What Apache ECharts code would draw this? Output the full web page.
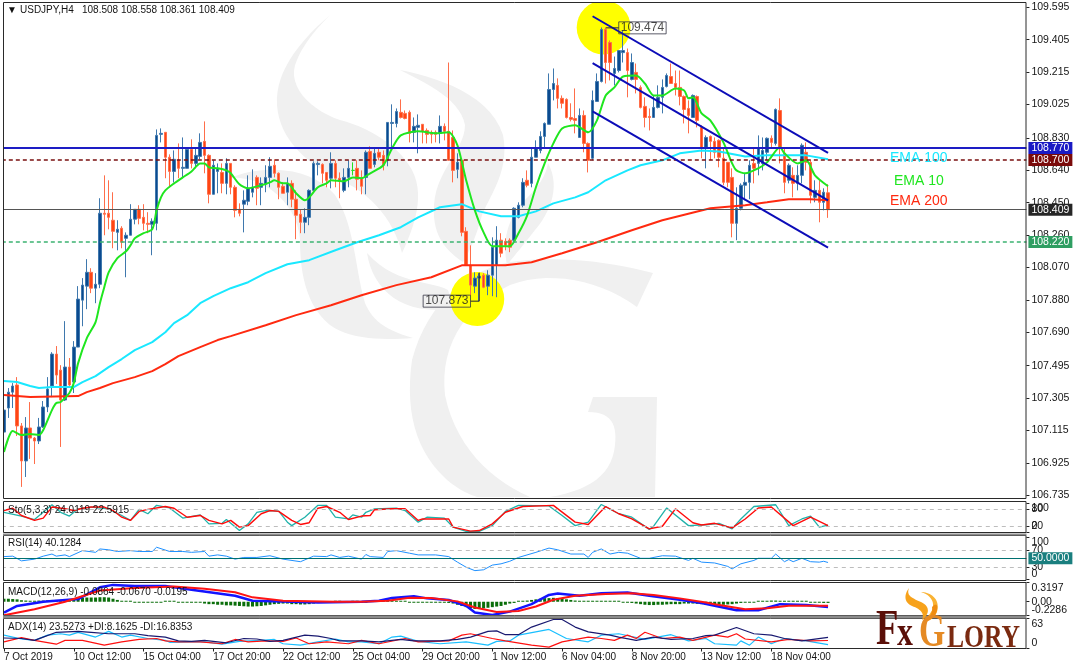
<!DOCTYPE html>
<html><head><meta charset="utf-8">
<style>html,body{margin:0;padding:0;background:#fff}#c{width:1076px;height:669px}</style>
<script src="https://cdn.jsdelivr.net/npm/echarts@6/dist/echarts.min.js"></script>
</head><body><div id="c"></div>
<script>
const candles=[
[107.106,107.235,107.066,107.452],[107.247,107.340,107.189,107.364],[107.340,107.376,107.247,107.393],[107.382,107.142,107.083,107.428],[107.142,106.937,106.785,107.159],
[106.937,107.130,106.843,107.194],[107.130,107.071,106.949,107.282],[107.071,107.054,106.919,107.077],[107.054,107.136,107.036,107.189],[107.136,107.253,107.130,107.288],
[107.253,107.358,107.223,107.428],[107.376,107.563,107.311,107.574],[107.563,107.440,107.388,107.610],[107.469,107.294,107.019,107.498],[107.294,107.487,107.288,107.756],
[107.487,107.382,107.370,107.540],[107.399,107.604,107.335,107.639],[107.604,107.885,107.604,107.961],[107.879,107.967,107.726,108.008],[107.961,108.042,107.826,108.119],
[108.042,107.949,107.920,108.066],[107.949,107.972,107.861,108.037],[107.972,108.388,107.949,108.476],[108.388,108.382,108.259,108.610],[108.388,108.364,108.294,108.581],
[108.347,108.282,108.183,108.511],[108.276,108.294,108.171,108.347],[108.300,108.218,108.183,108.312],[108.241,108.259,108.013,108.276],[108.259,108.353,108.259,108.441],
[108.353,108.411,108.323,108.411],[108.411,108.358,108.323,108.435],[108.364,108.329,108.288,108.441],[108.329,108.323,108.271,108.394],[108.323,108.341,108.142,108.358],
[108.329,108.844,108.288,108.879],[108.850,108.856,108.803,108.885],[108.862,108.716,108.593,108.862],[108.716,108.633,108.540,108.733],[108.633,108.704,108.569,108.756],
[108.698,108.651,108.593,108.797],[108.651,108.657,108.593,108.832],[108.651,108.762,108.651,108.768],[108.762,108.680,108.651,108.821],[108.680,108.727,108.651,108.768],
[108.721,108.803,108.704,108.856],[108.809,108.727,108.622,108.926],[108.727,108.499,108.446,108.733],[108.499,108.669,108.499,108.698],[108.633,108.651,108.505,108.680],
[108.627,108.563,108.505,108.680],[108.563,108.680,108.499,108.710],[108.680,108.540,108.499,108.680],[108.540,108.405,108.364,108.552],[108.411,108.388,108.370,108.446],
[108.441,108.464,108.276,108.522],[108.458,108.534,108.435,108.610],[108.511,108.540,108.481,108.645],[108.598,108.534,108.435,108.610],[108.540,108.563,108.435,108.598],
[108.558,108.598,108.511,108.669],[108.598,108.663,108.540,108.716],[108.669,108.622,108.598,108.704],[108.622,108.540,108.470,108.627],[108.546,108.505,108.505,108.569],
[108.511,108.563,108.435,108.598],[108.563,108.470,108.423,108.581],[108.470,108.376,108.236,108.522],[108.382,108.335,108.271,108.411],[108.335,108.364,108.271,108.417],
[108.364,108.522,108.318,108.528],[108.522,108.680,108.517,108.692],[108.674,108.680,108.610,108.692],[108.674,108.622,108.563,108.680],[108.627,108.581,108.540,108.627],
[108.593,108.680,108.534,108.745],[108.680,108.593,108.540,108.698],[108.593,108.575,108.476,108.627],[108.522,108.598,108.511,108.651],[108.598,108.651,108.540,108.698],
[108.639,108.639,108.610,108.686],[108.651,108.587,108.522,108.698],[108.593,108.546,108.499,108.639],[108.598,108.745,108.499,108.756],[108.750,108.651,108.651,108.780],
[108.674,108.739,108.657,108.774],[108.745,108.716,108.698,108.774],[108.727,108.669,108.639,108.756],[108.698,108.920,108.663,108.920],[108.914,108.920,108.774,109.026],
[108.914,108.984,108.891,109.002],[108.979,108.949,108.943,109.055],[108.973,108.943,108.938,108.990],[108.979,108.856,108.803,108.990],[108.862,108.897,108.803,108.949],
[108.891,108.903,108.739,108.967],[108.909,108.868,108.797,108.909],[108.873,108.850,108.797,108.885],[108.856,108.850,108.797,108.873],[108.862,108.850,108.803,108.873],
[108.856,108.897,108.797,108.961],[108.897,108.868,108.815,108.914],[108.868,108.698,108.698,109.271],[108.832,108.639,108.569,108.873],[108.645,108.686,108.593,108.739],
[108.698,108.276,108.253,108.698],[108.282,108.083,108.083,108.306],[108.083,107.967,107.908,108.200],[107.961,108.008,107.920,108.042],[108.008,108.019,107.873,108.037],
[108.025,107.955,107.949,108.037],[107.961,108.025,107.908,108.054],[108.025,108.189,107.902,108.247],[108.083,108.230,107.896,108.312],[108.230,108.154,108.130,108.271],
[108.224,108.200,108.171,108.241],[108.230,108.189,108.160,108.241],[108.230,108.417,108.212,108.423],[108.364,108.435,108.358,108.452],[108.435,108.569,108.423,108.593],
[108.581,108.552,108.540,108.639],[108.563,108.716,108.540,108.774],[108.716,108.768,108.716,108.815],[108.756,108.838,108.739,108.868],[108.838,108.914,108.774,108.920],
[108.909,109.113,108.909,109.207],[109.113,109.148,109.049,109.236],[109.137,109.061,109.002,109.178],[109.061,109.032,109.002,109.078],[109.055,108.949,108.943,109.061],
[108.949,108.938,108.926,109.032],[108.943,108.932,108.856,109.119],[108.832,108.961,108.832,109.002],[108.961,108.797,108.745,108.990],[108.797,108.698,108.627,108.803],
[108.710,109.049,108.698,109.107],[109.043,109.160,109.043,109.207],[109.160,109.464,109.154,109.476],[109.464,109.271,109.148,109.474],[109.388,109.271,109.166,109.400],
[109.207,109.236,109.137,109.306],[109.224,109.341,109.213,109.341],[109.329,109.341,109.271,109.458],[109.329,109.224,109.067,109.353],[109.172,109.271,109.166,109.324],
[109.213,109.172,109.090,109.265],[109.125,109.008,109.002,109.137],[109.014,108.949,108.891,109.067],[108.955,108.949,108.873,109.002],[108.949,109.008,108.949,109.078],
[109.008,109.067,109.002,109.137],[109.067,109.125,108.973,109.172],[109.131,109.195,109.125,109.207],[109.189,109.148,109.148,109.265],[109.148,109.125,109.078,109.224],
[109.125,109.072,109.020,109.224],[109.072,108.996,108.914,109.078],[109.002,108.961,108.856,109.049],[108.949,109.078,108.949,109.084],[109.072,108.932,108.891,109.078],
[108.891,108.768,108.710,108.903],[108.774,108.832,108.651,108.844],[108.838,108.809,108.698,108.844],[108.809,108.745,108.710,108.832],[108.815,108.716,108.657,108.821],
[108.710,108.569,108.552,108.774],[108.686,108.569,108.540,108.686],[108.598,108.329,108.247,108.651],[108.329,108.417,108.230,108.540],[108.417,108.552,108.405,108.563],
[108.552,108.569,108.464,108.622],[108.569,108.669,108.470,108.698],[108.680,108.651,108.563,108.768],[108.680,108.768,108.610,108.844],[108.680,108.756,108.639,108.832],
[108.745,108.827,108.698,108.832],[108.827,108.803,108.774,108.844],[108.797,108.996,108.785,109.002],[108.990,108.768,108.680,109.061],[108.739,108.569,108.505,108.768],
[108.581,108.669,108.563,108.680],[108.610,108.563,108.481,108.657],[108.563,108.610,108.522,108.669],[108.610,108.786,108.563,108.797],[108.745,108.686,108.639,108.803],
[108.686,108.493,108.446,108.698],[108.481,108.522,108.452,108.581],[108.522,108.452,108.335,108.581],[108.452,108.511,108.405,108.534],[108.508,108.409,108.361,108.558]
];
const dojiBar=80;
const ema10=[[0,106.989],[2,107.112],[4,107.089],[6,107.095],[8,107.089],[9,107.118],[11,107.235],[12,107.276],[13,107.282],[15,107.335],[16,107.393],[17,107.510],[19,107.656],[21,107.750],[22,107.861],[23,107.955],[24,108.042],[26,108.125],[28,108.165],[29,108.200],[30,108.241],[32,108.271],[34,108.294],[35,108.405],[36,108.481],[37,108.522],[39,108.563],[41,108.598],[43,108.633],[45,108.680],[46,108.680],[47,108.657],[49,108.651],[51,108.639],[52,108.622],[54,108.558],[56,108.534],[59,108.552],[61,108.569],[62,108.581],[64,108.563],[65,108.563],[67,108.505],[69,108.464],[70,108.481],[72,108.540],[74,108.563],[75,108.581],[78,108.575],[80,108.598],[82,108.593],[84,108.622],[87,108.669],[89,108.768],[91,108.844],[95,108.868],[99,108.856],[102,108.862],[104,108.786],[106,108.581],[108,108.405],[110,108.276],[112,108.195],[116,108.195],[118,108.271],[120,108.376],[122,108.540],[124,108.680],[126,108.797],[128,108.885],[131,108.903],[134,108.862],[136,108.932],[138,109.078],[140,109.125],[142,109.189],[145,109.195],[147,109.148],[149,109.078],[151,109.078],[154,109.119],[156,109.107],[157,109.061],[158,109.067],[160,108.973],[162,108.932],[165,108.803],[167,108.680],[168,108.639],[170,108.622],[173,108.651],[175,108.686],[178,108.774],[179,108.739],[182,108.680],[184,108.698],[186,108.610],[189,108.546]];
const ema100=[[0,107.405],[3,107.399],[6,107.376],[8,107.364],[11,107.370],[16,107.370],[18,107.399],[21,107.434],[24,107.487],[27,107.534],[30,107.586],[34,107.633],[37,107.691],[39,107.744],[42,107.791],[45,107.861],[48,107.902],[52,107.949],[56,107.984],[60,108.037],[65,108.089],[70,108.113],[76,108.171],[81,108.218],[86,108.259],[91,108.306],[95,108.364],[100,108.423],[105,108.441],[109,108.399],[114,108.370],[118,108.370],[122,108.399],[126,108.446],[131,108.481],[134,108.511],[138,108.581],[143,108.639],[146,108.669],[151,108.698],[155,108.739],[160,108.756],[164,108.750],[170,108.721],[175,108.727],[180,108.727],[184,108.727],[189,108.704]];
const ema200=[[0,107.323],[6,107.311],[17,107.317],[19,107.340],[22,107.364],[25,107.393],[30,107.428],[34,107.463],[37,107.504],[40,107.551],[45,107.604],[49,107.645],[52,107.668],[60,107.732],[67,107.791],[75,107.849],[82,107.908],[90,107.967],[98,108.013],[105,108.083],[115,108.083],[121,108.101],[128,108.154],[136,108.218],[144,108.288],[151,108.347],[162,108.417],[170,108.435],[175,108.452],[180,108.470],[185,108.470],[189,108.464]];
const channelUpper=[[135,109.542],[189,108.741]];
const channelMiddle=[[135,109.267],[189,108.464]];
const channelLower=[[135,108.985],[189,108.187]];
const swingHigh=[138,109.474];
const swingLow=[109,107.873];
const levels={blue:108.770,maroon:108.700,last:108.409,green:108.220};
const mainTicks=[109.595,109.405,109.215,109.025,108.830,108.640,108.450,108.260,108.070,107.880,107.690,107.495,107.305,107.115,106.925,106.735];
const timeLabels=['7 Oct 2019','10 Oct 12:00','15 Oct 04:00','17 Oct 20:00','22 Oct 12:00','25 Oct 04:00','29 Oct 20:00','1 Nov 12:00','6 Nov 04:00','8 Nov 20:00','13 Nov 12:00','18 Nov 04:00'];
const stochMain=[[0,68],[4,55],[7,43],[11,94],[13,68],[15,55],[17,80],[20,86],[24,80],[27,57],[29,40],[31,78],[33,63],[35,92],[38,83],[41,48],[45,59],[47,28],[50,30],[51,43],[54,5],[56,28],[58,68],[60,74],[63,72],[65,34],[66,22],[69,51],[72,92],[74,92],[76,51],[79,45],[80,59],[82,51],[83,68],[85,80],[90,82],[92,74],[95,34],[97,51],[101,48],[103,17],[106,2],[109,2],[112,22],[115,71],[118,92],[125,90],[128,57],[131,22],[134,34],[137,95],[141,63],[144,51],[148,9],[149,20],[152,83],[157,22],[161,25],[164,30],[167,11],[169,45],[172,88],[177,94],[180,22],[183,45],[185,55],[187,17],[189,24]];
const stochSignal=[[0,74],[2,82],[4,57],[7,40],[9,48],[11,86],[14,80],[16,74],[18,82],[20,86],[23,86],[25,74],[27,51],[29,40],[31,71],[33,78],[37,88],[39,82],[42,51],[45,57],[47,40],[50,28],[52,40],[54,17],[56,22],[59,63],[61,74],[63,71],[66,40],[68,26],[70,32],[72,82],[74,88],[77,68],[79,43],[82,55],[84,57],[85,77],[89,80],[92,80],[95,40],[96,45],[102,45],[103,17],[107,3],[109,5],[112,28],[115,68],[119,88],[126,92],[131,34],[134,26],[138,88],[141,63],[144,45],[148,11],[151,20],[154,80],[158,32],[160,24],[163,30],[167,14],[170,45],[173,83],[176,86],[181,22],[185,51],[189,22]];
const rsiLine=[[0,54],[2,55],[4,44],[7,48],[9,55],[11,60],[12,55],[14,58],[15,54],[18,68],[21,64],[22,72],[24,70],[26,66],[29,68],[31,66],[34,66],[35,76],[38,66],[41,66],[43,64],[46,66],[47,55],[49,58],[51,55],[53,48],[55,52],[58,52],[61,56],[64,48],[68,42],[71,55],[74,54],[75,58],[77,52],[79,55],[82,48],[83,59],[84,54],[87,52],[88,66],[90,68],[93,62],[95,58],[99,58],[102,54],[104,41],[106,29],[108,21],[110,23],[112,34],[114,37],[116,43],[118,52],[122,64],[125,74],[127,70],[130,60],[133,60],[134,52],[135,64],[137,72],[139,60],[141,64],[143,62],[146,50],[148,50],[151,56],[154,55],[157,45],[158,50],[160,41],[163,39],[166,31],[167,25],[169,37],[172,45],[173,50],[176,50],[177,60],[179,42],[180,47],[181,42],[183,50],[185,42],[187,41],[188,43],[189,40.13]];
const macdMain=[[0,-0.18],[3,-0.07],[9,0],[17,0.045],[22,0.24],[25,0.28],[30,0.26],[37,0.26],[43,0.2],[48,0.15],[53,0.1],[57,0.017],[64,0.006],[72,-0.011],[82,0],[86,0.017],[89,0.062],[94,0.09],[97,0.056],[102,0.028],[106,-0.068],[108,-0.18],[112,-0.22],[116,-0.164],[121,-0.04],[125,0.113],[127,0.136],[132,0.1],[137,0.141],[143,0.153],[148,0.1],[155,0.034],[160,-0.023],[163,-0.068],[168,-0.141],[173,-0.141],[178,-0.04],[184,-0.056],[189,-0.0864]];
const macdSignal=[[0,-0.226],[7,-0.124],[14,0],[22,0.186],[30,0.23],[39,0.254],[46,0.215],[53,0.158],[57,0.073],[64,0.017],[76,0],[82,0],[88,0.017],[93,0.068],[98,0.062],[104,0.006],[108,-0.096],[113,-0.17],[118,-0.153],[122,-0.079],[126,0.034],[131,0.1],[138,0.13],[144,0.141],[149,0.113],[155,0.056],[161,-0.011],[163,-0.04],[170,-0.124],[175,-0.107],[180,-0.068],[186,-0.068],[189,-0.067]];
const macdHist=[.05,.05,.045,.04,.025,.02,.015,.015,.02,.02,.025,.03,.03,.03,.03,.04,.05,.06,.065,.07,.07,.07,.075,.075,.07,.05,.03,.015,.01,.005,
-.005,-.005,-.005,-.01,-.01,-.005,-.005,0,.005,.005,-.005,-.005,-.005,-.005,-.005,-.01,-.03,-.04,-.04,-.05,-.05,-.06,-.06,-.065,-.07,-.075,-.08,-.08,-.075,-.07,
-.06,-.05,-.04,-.035,-.03,-.03,-.04,-.04,-.045,-.045,-.04,-.03,-.02,-.01,-.005,-.005,.005,.005,-.005,-.005,.005,.005,-.005,-.005,.005,.005,.005,.005,.005,.005,
.015,.015,.015,-.005,-.005,-.005,-.005,-.005,-.005,-.005,-.005,-.01,-.02,-.03,-.05,-.07,-.09,-.11,-.12,-.12,-.11,-.1,-.09,-.08,-.07,-.05,-.03,-.02,0,.01,
.02,.03,.04,.05,.06,.06,.065,.06,.05,.04,.03,.02,.01,.005,.005,0,.005,.01,.01,.01,.005,0,-.005,-.01,-.02,-.03,-.04,-.05,-.055,-.055,-.05,-.05,-.045,-.04,
-.04,-.04,-.03,-.03,-.03,-.035,-.04,-.05,-.05,-.055,-.05,-.05,-.045,-.04,-.03,-.02,-.015,-.01,-.005,.005,.01,.015,.02,.02,.015,.015,.01,.01,.005,.005,0,-.005,-.01,-.015,-.02,-.0195];
const adxLine=[[0,22],[4,21],[7,17],[9,24],[12,34],[17,36],[20,34],[24,31],[30,31],[33,27],[37,24],[40,16],[43,15],[46,17],[49,14],[51,12],[55,21],[58,20],[61,15],[64,17],[69,28],[72,26],[75,21],[77,16],[82,16],[86,14],[91,19],[94,16],[100,16],[104,19],[107,24],[111,36],[113,37],[115,29],[118,29],[121,45],[126,61],[128,61],[131,45],[134,35],[139,28],[141,24],[145,17],[149,24],[153,19],[158,21],[161,27],[163,28],[168,44],[172,31],[176,28],[179,21],[183,16],[189,23.5]];
const plusDi=[[0,28],[4,20],[7,17],[10,28],[13,31],[15,28],[17,34],[21,24],[24,36],[27,24],[29,28],[33,21],[37,17],[38,13],[43,14],[46,14],[50,9],[54,15],[59,17],[62,19],[64,10],[68,7],[72,14],[76,20],[79,14],[82,14],[86,10],[89,24],[91,26],[95,15],[100,10],[106,14],[111,7],[113,15],[116,16],[118,28],[125,40],[129,21],[134,14],[137,28],[141,31],[147,19],[153,29],[157,16],[161,21],[163,10],[168,7],[169,16],[171,7],[173,24],[176,10],[179,21],[184,16],[189,8.16]];
const minusDi=[[0,14],[4,23],[7,17],[12,9],[14,17],[18,17],[23,7],[27,14],[31,19],[35,21],[37,16],[40,14],[45,14],[50,10],[53,19],[56,14],[60,16],[64,15],[67,22],[70,10],[74,14],[79,10],[82,17],[86,10],[92,21],[95,14],[102,16],[105,28],[107,31],[112,21],[115,16],[121,7],[125,3],[128,14],[134,24],[137,21],[140,17],[143,28],[145,21],[147,34],[151,21],[155,24],[158,17],[163,28],[166,24],[168,31],[170,20],[176,14],[180,19],[185,16],[189,16.84]];

const slots=Array.from({length:235},(_,i)=>String(i));
const FONT='"Liberation Sans", Arial, sans-serif';
const INK='#141414';
const L=1.82, W=1024.6;
const tickAt=i=>i%16===0&&i<=176;
const panels=[{top:2.5,h:496},{top:501.5,h:31},{top:535.5,h:45},{top:582.5,h:33},{top:618.5,h:30}];
const grid=panels.map(p=>({left:L,width:W,top:p.top,height:p.h,containLabel:false}));
const xAxis=panels.map((p,k)=>({gridIndex:k,type:'category',data:slots,boundaryGap:true,show:k===4,
  axisLine:{show:false},axisPointer:{show:false},
  axisTick:{show:k===4,alignWithLabel:true,interval:tickAt,length:3,lineStyle:{color:'#222'}},
  axisLabel:{show:k===4,interval:tickAt,align:'left',margin:4,color:INK,fontFamily:FONT,fontSize:10,formatter:(v,i)=>tickAt(+v)?(timeLabels[+v/16]||''):''}}));
const yAx=(k,min,max,ticks,fmt,extra)=>({gridIndex:k,type:'value',position:'right',min,max,scale:false,splitLine:{show:false},axisLine:{show:false},
  axisTick:{show:true,length:3,customValues:ticks,lineStyle:{color:'#222'}},
  axisLabel:Object.assign({customValues:ticks,color:INK,fontFamily:FONT,fontSize:10.5,margin:5,align:'left',showMinLabel:true,showMaxLabel:true,hideOverlap:false,formatter:fmt},extra||{})});
const inward={verticalAlignMinLabel:'bottom',verticalAlignMaxLabel:'top'};
const yAxis=[
 yAx(0,106.717,109.6225,mainTicks,v=>v.toFixed(3)),
 yAx(1,-1.7,105.2,[20,80],v=>String(v)),
 yAx(2,-2.2,103.6,[30,70],v=>String(v)),
 yAx(3,-0.2286,0.3197,[0],()=>'0.00'),
 yAx(4,0,63,[0,63],v=>String(v),inward),
 yAx(1,-1.7,105.2,[0,100],v=>String(v),inward),
 yAx(2,-2.2,103.6,[0,100],v=>String(v),inward),
 yAx(3,-0.2286,0.3197,[-0.2286,0.3197],v=>String(v),inward)
];
const badge=(bg)=>({show:true,position:'end',distance:2,color:'#fff',fontFamily:FONT,fontSize:10.5,backgroundColor:bg,padding:[1,3,0,3],formatter:p=>p.value.toFixed(3)});
const ml=(y,color,width,type,label)=>({yAxis:y,lineStyle:{color,width,type},label:label||{show:false}});
const line=(name,data,color,width,gi,z,smooth)=>({name,type:'line',data,xAxisIndex:gi,yAxisIndex:gi,symbol:'none',showSymbol:false,smooth:smooth||false,z:z||4,lineStyle:{color,width},silent:true,animation:false});
const series=[
 {type:'scatter',xAxisIndex:0,yAxisIndex:0,data:[[138,109.476],[109,107.885]],symbol:'circle',symbolSize:54,symbolOffset:[-2,0],itemStyle:{color:'#ffff00',opacity:1},z:1,silent:true,animation:false},
 {type:'candlestick',name:'USDJPY',xAxisIndex:0,yAxisIndex:0,barWidth:3,z:3,animation:false,silent:true,
  data:candles.map((c,i)=>i===dojiBar?{value:c,itemStyle:{color:'#22e022',color0:'#22e022',borderColor:'#22e022',borderColor0:'#22e022',borderColorDoji:'#22e022'}}:c),
  itemStyle:{color:'#0b4a8f',color0:'#ff4513',borderColor:'#3f78ad',borderColor0:'#ff6e4a',borderWidth:1},
  markLine:{silent:true,symbol:'none',animation:false,precision:3,z:6,data:[
   ml(levels.blue,'#1d1dc4',2,'solid',badge('#1a1ac4')),
   ml(levels.maroon,'#7a0f0f',1.5,[4,3],badge('#7a0a0a')),
   ml(levels.last,'#555',1,'solid',badge('#262626')),
   ml(levels.green,'#3cb371',1.5,[4,3],badge('#2f9e62'))]}},
 line('EMA 200',ema200,'#ff2a10',2,0,4),
 line('EMA 100',ema100,'#19e8ff',2,0,4),
 line('EMA 10',ema10,'#1fe61f',2,0,5,.25),
 line('channel upper',channelUpper,'#0c0cb8',2,0,6),
 line('channel middle',channelMiddle,'#0c0cb8',2,0,6),
 line('channel lower',channelLower,'#0c0cb8',2,0,6),
 {type:'line',xAxisIndex:0,yAxisIndex:0,data:[swingHigh,[141,swingHigh[1]]],symbol:'none',z:7,lineStyle:{color:'#223',width:1},animation:false,silent:true},
 {type:'line',xAxisIndex:0,yAxisIndex:0,data:[[107,swingLow[1]],swingLow,[109,108.04]],symbol:'none',z:7,lineStyle:{color:'#223',width:1},animation:false,silent:true},
 {type:'scatter',xAxisIndex:0,yAxisIndex:0,data:[[141,swingHigh[1]]],symbolSize:0,z:8,silent:true,animation:false,
  label:{show:true,position:'right',distance:0,formatter:'109.474',color:'#222',fontFamily:FONT,fontSize:12,borderColor:'#334',borderWidth:1,padding:[0,2,0,2]}},
 {type:'scatter',xAxisIndex:0,yAxisIndex:0,data:[[107,swingLow[1]]],symbolSize:0,z:8,silent:true,animation:false,
  label:{show:true,position:'left',distance:0,formatter:'107.873',color:'#222',fontFamily:FONT,fontSize:12,borderColor:'#334',borderWidth:1,padding:[0,2,0,2]}},
 Object.assign(line('Sto main',stochMain,'#20b2aa',1.3,1,3),{markLine:{silent:true,symbol:'none',animation:false,label:{show:false},lineStyle:{color:'#bdbdbd',type:[4,4],width:1},data:[{yAxis:80},{yAxis:20}]}}),
 line('Sto signal',stochSignal,'#ff0a0a',1.4,1,4),
 Object.assign(line('RSI',rsiLine,'#1e90ff',1,2,4),{markLine:{silent:true,symbol:'none',animation:false,data:[
   {yAxis:70,lineStyle:{color:'#bdbdbd',type:[4,4],width:1},label:{show:false}},
   {yAxis:30,lineStyle:{color:'#bdbdbd',type:[4,4],width:1},label:{show:false}},
   {yAxis:50,lineStyle:{color:'#007070',type:'solid',width:1},label:{show:true,position:'end',distance:2,color:'#fff',fontFamily:FONT,fontSize:10.5,backgroundColor:'#1a7f7f',padding:[1,3,0,3],formatter:'50.0000'}}]}}),
 {type:'bar',xAxisIndex:3,yAxisIndex:3,data:macdHist,barWidth:3,barMinHeight:1,itemStyle:{color:'#0a6e0a'},z:2,silent:true,animation:false},
 line('MACD',macdMain,'#1414ff',2.5,3,3),
 line('Signal',macdSignal,'#ff1414',2,3,4),
 line('+DI',plusDi,'#19bfff',1.2,4,3),
 line('-DI',minusDi,'#ff1010',1.2,4,4),
 line('ADX',adxLine,'#191970',1.2,4,5)
];
const txt=(x,y,text,fill,size)=>({type:'text',x,y,silent:true,z:30,style:{text,fill:fill||INK,font:(size||10)+'px '+FONT,textVerticalAlign:'middle'}});
function outline(d){
  const n=d.match(/-?[\d.]+|[MCLZ]/g), pts=[]; let i=0,cmd='',cur=[0,0];
  while(i<n.length){
    if(/[MCLZ]/.test(n[i])){cmd=n[i++];if(cmd==='Z')continue;}
    if(cmd==='M'||cmd==='L'){cur=[+n[i],+n[i+1]];i+=2;pts.push(cur);}
    else if(cmd==='C'){
      const a=[+n[i],+n[i+1]],b=[+n[i+2],+n[i+3]],c=[+n[i+4],+n[i+5]];i+=6;
      for(let t=1;t<=14;t++){const u=t/14,v=1-u;pts.push([v*v*v*cur[0]+3*v*v*u*a[0]+3*v*u*u*b[0]+u*u*u*c[0],v*v*v*cur[1]+3*v*v*u*a[1]+3*v*u*u*b[1]+u*u*u*c[1]]);}
      cur=c;
    }
  }
  return pts;
}
const blob=(d,fill,z)=>({type:'polygon',silent:true,z:z||0,shape:{points:outline(d)},style:{fill}});
const wm=(d)=>blob(d,'#f0f0f0',0);
const frame=(p)=>({type:'rect',silent:true,z:20,shape:{x:3.5,y:p.top,width:1022.5,height:p.h},style:{fill:'none',stroke:'#2a2a2a',lineWidth:1}});
const serif='"Liberation Serif", "Times New Roman", serif';
const logoT=(x,y,t,size,fill,sx)=>({type:'text',silent:true,z:40,x,y,scaleX:sx,style:{text:t,fill,font:'bold '+size+'px '+serif,textVerticalAlign:'bottom'}});
const graphicEls=[
 wm('M330,15 C295,45 275,75 277,105 C279,135 300,160 340,180 C375,195 395,225 402,253 C415,225 425,195 412,170 C398,145 370,128 340,120 C310,110 285,85 297,60 C303,45 315,30 330,15 Z'),
 wm('M400,70 C440,78 490,95 503,135 C510,170 490,195 482,215 C475,240 470,250 463,262 C445,250 432,235 434,205 C436,170 465,150 465,125 C460,100 430,85 400,70 Z'),
 wm('M230,178 C260,165 310,165 335,195 C355,225 355,270 365,303 C372,320 385,330 413,338 C385,340 350,340 330,325 C305,305 300,270 300,240 C298,205 265,175 230,178 Z'),
 wm('M367,253 C372,285 395,310 437,310 C447,310 452,300 448,290 C430,280 395,285 367,253 Z'),
 wm('M548,163 C560,185 552,210 535,230 C525,243 515,255 507,265 C503,245 505,225 520,205 C535,190 545,180 548,163 Z'),
 wm('M653,273 C610,262 560,255 510,262 C460,272 425,310 412,360 C405,410 415,450 445,478 C455,487 465,493 477,497 L530,497 C490,480 455,445 445,395 C440,350 460,310 510,285 C550,270 600,280 637,307 Z'),
 wm('M588,412 L593,397 L657,397 L655,497 L550,497 C590,490 612,475 615,445 C617,425 612,412 588,412 Z'),
 {type:'rect',silent:true,z:19,shape:{x:0,y:0,width:3,height:669},style:{fill:'#fff'}},
 {type:'rect',silent:true,z:19,shape:{x:0,y:0,width:1076,height:2},style:{fill:'#fff'}},
 ...panels.map(frame),
 {type:'rect',silent:true,z:21,shape:{x:3,y:533.5,width:1023.5,height:2},style:{fill:'#8c8c8c'}},
 {type:'rect',silent:true,z:21,shape:{x:3,y:615.5,width:1023.5,height:3},style:{fill:'#8c8c8c'}},
 txt(7,10.5,'▼','#111',10),
 txt(20,10.5,'USDJPY,H4'),
 txt(82,10.5,'108.508 108.558 108.361 108.409'),
 txt(8,510,'Sto(5,3,3) 24.0119 22.5915'),
 txt(8,543,'RSI(14) 40.1284'),
 txt(8,592,'MACD(12,26,9) -0.0864 -0.0670 -0.0195'),
 txt(8,627,'ADX(14) 23.5273 +DI:8.1625 -DI:16.8353'),
 txt(890,158,'EMA 100','#19e8ff',14),
 txt(894,181,'EMA 10','#1fe61f',14),
 txt(890,201,'EMA 200','#ff2a10',14),
 blob('M909,588 C903,596 905,603 912,606 C920,609 925,613 922,620 C930,614 930,606 921,602 C912,598 906,596 909,588 Z','#f7a21b',39),
 blob('M921,592 C934,596 935,606 931,612 C928,617 925,620 923,622 C934,620 940,612 937,602 C935,596 928,592 921,592 Z','#f9b233',39),
 blob('M932,607 C936,603 938,604 937,610 C936,616 932,620 925,622 C930,617 933,612 932,607 Z','#f08c10',39),
 logoT(876,656,'F',51,'#5a0f08',.72),
 logoT(897,655,'x',42,'#5a0f08',.76),
 logoT(919,657,'G',47,'#e58a24',.72),
 logoT(947,655,'LORY',32,'#7a2a10',.8)
];
const chart=echarts.init(document.getElementById('c'),null,{renderer:'canvas',width:1076,height:669});
chart.setOption({animation:false,backgroundColor:'#fff',grid,xAxis,yAxis,series,tooltip:{show:false},graphic:{elements:graphicEls}});
</script></body></html>
